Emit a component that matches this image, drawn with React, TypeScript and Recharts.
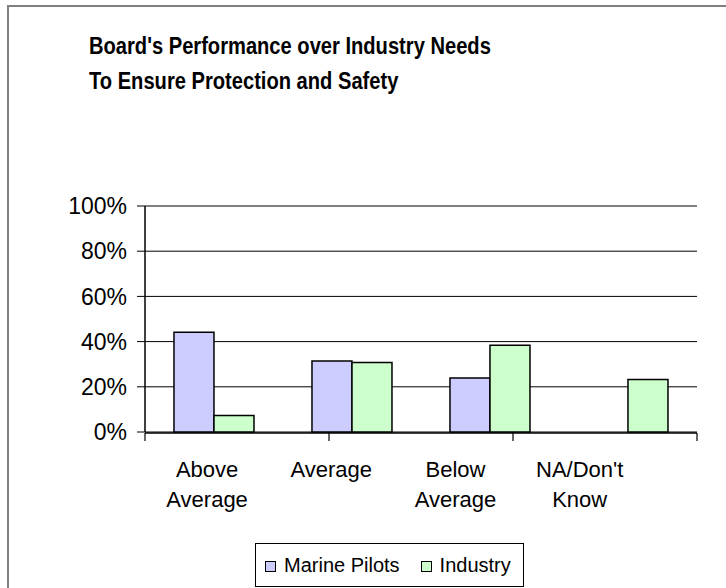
import {
  BarChart,
  Bar,
  XAxis,
  YAxis,
  CartesianGrid,
  Legend,
  ReferenceLine
} from "recharts";

const categories = ["Above Average", "Average", "Below Average", "NA/Don't Know"];
const categoryLines = [["Above", "Average"], ["Average"], ["Below", "Average"], ["NA/Don't", "Know"]];
const marinePilots = [44.1, 31.4, 23.9, null];
const industry = [7.3, 30.7, 38.4, 23.2];
const yTicks = [0, 20, 40, 60, 80, 100];
const edgeTicks = [0, 1, 2, 3, 4];

const data = categories.map((name, i) => ({
  name,
  marine: marinePilots[i],
  industry: industry[i]
}));

const FONT = "'Liberation Sans', Arial, Helvetica, sans-serif";
const PLOT_LEFT = 145;
const AXIS_Y = 432;

const seriesInfo = [
  { label: "Marine Pilots", color: "#ccccff" },
  { label: "Industry", color: "#ccffcc" }
];

function CategoryTick(props: any) {
  const { x, index } = props;
  const lines = categoryLines[index] || [];
  // labels sit a bit left of the bar groups, like the original
  const lx = PLOT_LEFT + (x - PLOT_LEFT) * 0.9;
  return (
    <text x={lx} y={AXIS_Y} textAnchor="middle" fill="#000" fontSize={22} fontFamily={FONT}>
      {lines.map((l, i) => (
        <tspan key={i} x={lx} y={AXIS_Y + 45 + i * 30}>
          {l}
        </tspan>
      ))}
    </text>
  );
}

function LegendBox() {
  return (
    <div
      style={{
        boxSizing: "border-box",
        width: 269,
        height: 44,
        border: "1px solid #000",
        background: "#fff",
        display: "flex",
        alignItems: "center",
        paddingLeft: 9,
        fontFamily: FONT,
        fontSize: 20,
        color: "#000"
      }}
    >
      {seriesInfo.map((s, i) => (
        <div key={s.label} style={{ display: "flex", alignItems: "center", marginRight: i === 0 ? 21 : 0 }}>
          <div
            style={{
              boxSizing: "border-box",
              width: 11,
              height: 11,
              border: "1px solid #000",
              background: s.color,
              marginRight: 8,
              marginTop: 3
            }}
          />
          <span>{s.label}</span>
        </div>
      ))}
    </div>
  );
}

export default function App() {
  return (
    <div
      style={{
        position: "fixed",
        left: 0,
        top: 0,
        width: 726,
        height: 588,
        overflow: "hidden",
        background: "#fff"
      }}
    >
      {/* outer frame, cut off on the right and bottom */}
      <div
        style={{
          position: "absolute",
          left: 7,
          top: 5,
          width: 800,
          height: 700,
          border: "2px solid #808080"
        }}
      />

      {/* Title */}
      <div
        style={{
          position: "absolute",
          left: 89,
          top: 29,
          fontFamily: FONT,
          fontWeight: "bold",
          fontSize: 23,
          lineHeight: "34.5px",
          color: "#000",
          whiteSpace: "nowrap",
          transform: "scaleX(0.875)",
          transformOrigin: "left top"
        }}
      >
        Board's Performance over Industry Needs
        <br />
        To Ensure Protection and Safety
      </div>

      <div style={{ position: "absolute", left: 0, top: 0 }}>
        <BarChart
          width={726}
          height={588}
          data={data}
          margin={{ top: 206, right: 29, bottom: 110, left: 0 }}
          barCategoryGap="21%"
          barGap={0}
        >
          <CartesianGrid vertical={false} stroke="#000" strokeWidth={1} />
          <XAxis
            xAxisId="edges"
            type="number"
            domain={[0, 4]}
            ticks={edgeTicks}
            interval={0}
            height={1}
            tick={() => <g />}
            tickSize={8}
            tickLine={{ stroke: "#000", strokeWidth: 1.2 }}
            axisLine={{ stroke: "#000", strokeWidth: 1.5 }}
            allowDataOverflow
          />
          <XAxis
            dataKey="name"
            height={1}
            tickLine={false}
            axisLine={false}
            tick={<CategoryTick />}
            interval={0}
          />
          <YAxis
            width={145}
            domain={[0, 100]}
            ticks={yTicks}
            interval={0}
            tickFormatter={(v) => `${v}%`}
            tickSize={8}
            tickMargin={10}
            tick={{ fill: "#000", fontSize: 23, fontFamily: FONT }}
            tickLine={{ stroke: "#000" }}
            axisLine={{ stroke: "#000", strokeWidth: 1.5 }}
          />
          <YAxis
            yAxisId="right"
            orientation="right"
            width={0}
            domain={[0, 100]}
            tick={false}
            tickLine={false}
            axisLine={{ stroke: "#808080", strokeWidth: 2 }}
          />
          <ReferenceLine y={100} stroke="#808080" strokeWidth={2} />
          <Legend
            verticalAlign="bottom"
            height={44}
            content={() => <LegendBox />}
            wrapperStyle={{ left: 255, top: 543, bottom: "auto", width: 269, height: 44 }}
          />
          <Bar
            dataKey="marine"
            name="Marine Pilots"
            fill="#ccccff"
            stroke="#000"
            strokeWidth={1.5}
            isAnimationActive={false}
          />
          <Bar
            dataKey="industry"
            name="Industry"
            fill="#ccffcc"
            stroke="#000"
            strokeWidth={1.5}
            isAnimationActive={false}
          />
        </BarChart>
      </div>
    </div>
  );
}
